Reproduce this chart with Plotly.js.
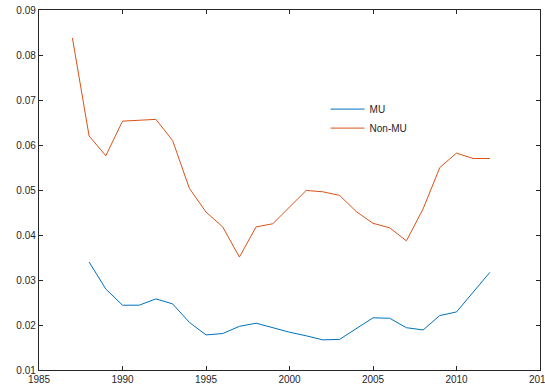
<!DOCTYPE html>
<html>
<head>
<meta charset="utf-8">
<script src="https://cdn.plot.ly/plotly-3.0.1.min.js"></script>
<style>html,body{margin:0;padding:0;background:#fff;}#chart{width:545px;height:387px;}</style>
</head>
<body>
<div id="chart"></div>
<script>
const muYears = [1988,1989,1990,1991,1992,1993,1994,1995,1996,1997,1998,1999,2000,2001,2002,2003,2004,2005,2006,2007,2008,2009,2010,2011,2012];
const muValues = [0.0340,0.0280,0.0244,0.0244,0.0258,0.0247,0.0206,0.0178,0.0181,0.0197,0.0204,0.0194,0.0184,0.0176,0.0167,0.0168,0.0193,0.0216,0.0215,0.0194,0.0189,0.0221,0.0229,0.0273,0.0317];
const nonMuYears = [1987,1988,1989,1990,1991,1992,1993,1994,1995,1996,1997,1998,1999,2000,2001,2002,2003,2004,2005,2006,2007,2008,2009,2010,2011,2012];
const nonMuValues = [0.0838,0.0620,0.0576,0.0653,0.0655,0.0657,0.0610,0.0504,0.0451,0.0418,0.0351,0.0418,0.0425,0.0463,0.0499,0.0496,0.0488,0.0452,0.0426,0.0416,0.0387,0.0458,0.0550,0.0582,0.0570,0.0570];
const seriesNames = ['MU','Non-MU'];
const xTicks = [1985,1990,1995,2000,2005,2010,2015];
const yTicks = [0.01,0.02,0.03,0.04,0.05,0.06,0.07,0.08,0.09];

const traces = [
  {x: muYears, y: muValues, name: seriesNames[0], type: 'scatter', mode: 'lines', line: {color: '#0072BD', width: 1}},
  {x: nonMuYears, y: nonMuValues, name: seriesNames[1], type: 'scatter', mode: 'lines', line: {color: '#D95319', width: 1}}
];
const axisCommon = {
  showgrid: false, zeroline: false, showline: true, linecolor: '#262626', linewidth: 1.2,
  ticks: 'inside', ticklen: 4, tickwidth: 1, tickcolor: '#262626', mirror: 'ticks',
  ticklabeloverflow: 'allow',
  tickfont: {family: 'Liberation Sans, Arial, sans-serif', size: 10, color: '#262626'}
};
const layout = {
  width: 545, height: 387,
  margin: {l: 39, r: 5, t: 10, b: 17, pad: 0},
  paper_bgcolor: '#fff', plot_bgcolor: '#fff',
  showlegend: true,
  legend: {x: 0.572, y: 0.765, xanchor: 'left', yanchor: 'top', bgcolor: 'rgba(255,255,255,0)',
           itemwidth: 34, tracegroupgap: 0,
           font: {family: 'Liberation Sans, Arial, sans-serif', size: 10, color: '#262626'}},
  xaxis: Object.assign({}, axisCommon, {range: [1985, 2015], tickvals: xTicks, ticktext: xTicks.map(String)}),
  yaxis: Object.assign({}, axisCommon, {range: [0.01, 0.09], tickvals: yTicks, ticktext: yTicks.map(v => v.toFixed(2))})
};
Plotly.newPlot('chart', traces, layout, {displayModeBar: false, staticPlot: true});
</script>
</body>
</html>
